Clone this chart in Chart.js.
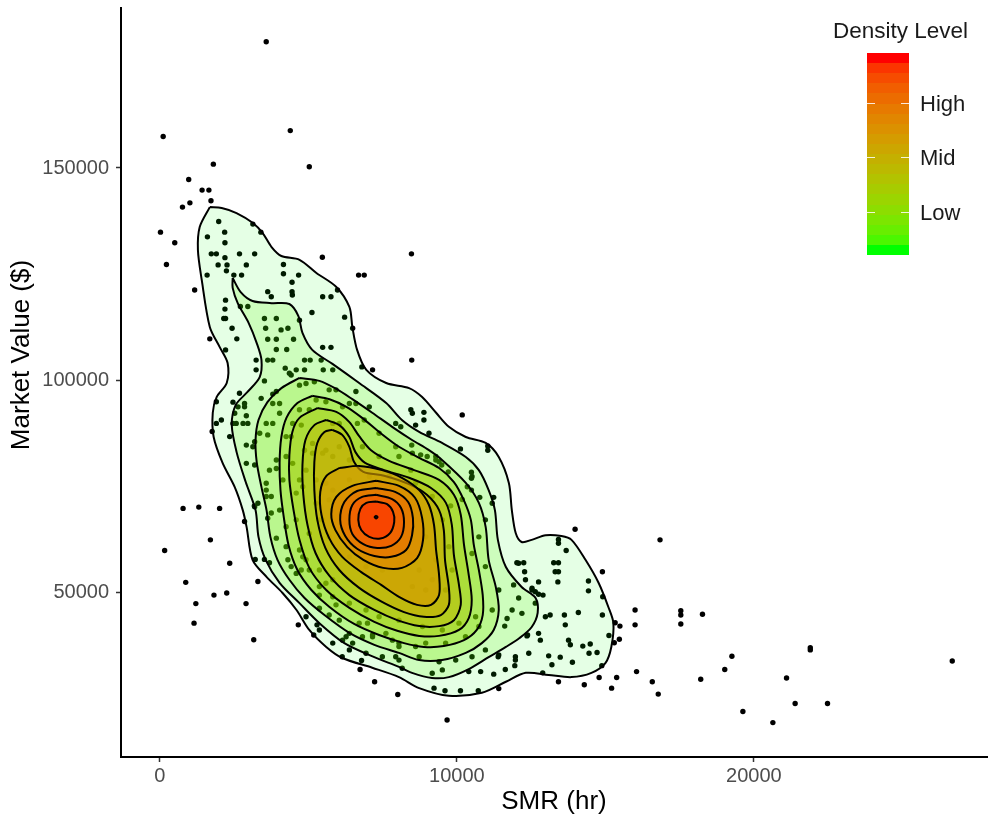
<!DOCTYPE html>
<html lang="en">
<head>
    <meta charset="UTF-8">
    <title>Market Value vs SMR</title>
    <script src="https://cdn.jsdelivr.net/npm/chart.js@4.4.1/dist/chart.umd.min.js"></script>
    <style>
        html, body { margin: 0; padding: 0; background: #fff; }
    </style>
</head>
<body>
    <canvas id="densityChart" width="991" height="820"></canvas>

    <script>
        // axis ticks and legend breaks
        const xTicks = [0, 10000, 20000];
        const yTicks = [50000, 100000, 150000];
        const legendLabels = ["Low", "Mid", "High"];
        const legendBreaks = [0.214, 0.484, 0.753];

        // machine listings: [SMR hours, market value $]
        const listings = [
            [3580,179700],[110,157400],[4390,158800],[1800,150900],[5030,150300],[970,147300],[1420,144800],[1650,144800],
            [1010,141800],[760,140800],[1720,142300],[20,134900],[500,132400],[3130,136800],[3400,134900],[8470,129800],
            [5470,129000],[220,127300],[1170,121300],[1680,109800],[6690,124800],[6880,124800],[8480,104800],[6800,103200],
            [7160,102500],[780,69900],[1310,70200],[2010,69900],[1700,62500],[160,60000],[2350,57000],[870,52500],
            [1820,49500],[2250,50000],[1210,47500],[2900,47500],[1150,42900],[3160,39000],[3300,52700],[4660,42500],
            [5180,40100],[5290,42500],[6740,32000],[7230,29100],[8010,26100],[6790,34100],[6140,35000],[9670,20100],
            [11410,27500],[13420,29100],[14290,28400],[14790,30100],[15210,27600],[15380,30100],[16050,31500],[16580,29100],
            [16780,26200],[13980,65000],[16840,62500],[14900,55000],[16000,46000],[16000,42500],[15490,42200],[15470,39100],
            [17540,45800],[17540,44800],[17540,42700],[18270,45000],[19260,35100],[19020,32000],[18210,29700],[19630,22100],
            [20640,19500],[21100,30000],[21390,24000],[21900,37100],[21900,36600],[22480,24000],[26680,34000],[10180,91900],
            [11040,84600],[11040,83600],[10120,83900],
            [1980,137400],[2180,134900],[1600,133800],[2190,132400],[1730,129800],[1900,129800],[2190,128900],[2680,129800],
            [3190,129800],[1960,127200],[2260,127200],[2910,127200],[2240,125800],[1590,124800],[2490,124800],[2750,124800],
            [4160,127300],[4160,125100],[4670,124800],[4450,123100],[4450,120900],[4460,120100],[3630,120900],[3750,119700],
            [5980,121300],[5760,119700],[5480,119700],[5120,116000],[4700,114200],[6220,114900],[6490,112300],[5480,107800],
            [5760,107800],[2210,118900],[2190,116800],[2150,114600],[2210,114600],[2430,112300],[2590,109800],[2210,107200],
            [2710,117400],[2960,117400],[3520,114600],[3920,114600],[3560,112300],[4080,111900],[4310,112300],[3630,109700],
            [3920,109700],[4500,109700],[3920,107300],[4270,107300],[3240,104800],[3630,104800],[3800,104800],[4870,104800],
            [5060,104800],[3240,102500],[4220,102900],[4590,102500],[4870,102500],[5430,104800],[5500,102500],[5820,102500],
            [4420,101300],[3520,99900],[3920,97400],[3800,96800],[2680,97000],[1900,95000],[2460,94900],[1900,89900],
            [2070,90700],[1760,88000],[2630,93800],[2850,93800],[2520,92300],[2910,91700],[2570,89900],[2800,89900],
            [2960,89900],[2350,86800],[2910,84800],[3190,85600],[3130,84400],[2910,80500],[3190,80100],[3580,74200],
            [3750,72700],[3300,71100],[4700,98900],[4920,99300],[5700,97800],[6600,97400],[5260,95400],[5590,95000],
            [3800,94600],[4030,92300],[3800,89900],[3580,89900],[3360,87600],[3630,87200],[4700,93100],[5030,93100],
            [4470,89900],[4760,89500],[4250,86800],[4420,86800],[4870,83600],[5140,82900],[5820,89900],[6040,89900],
            [6150,93800],[6380,94600],[6650,89900],[6880,90700],[7380,87600],[7940,89900],[8110,89100],[8450,93100],
            [8500,92300],[8610,89500],[8480,84800],[8050,82100],[5590,83600],[5820,82100],[4250,82100],[4470,80500],
            [3920,79300],[4140,76600],[4700,76600],[4590,73500],[3580,75800],
            [8890,92500],[8890,90700],[8780,82500],[9000,82100],[9290,82100],[9400,80900],[9490,80100],[9710,78500],
            [10490,78400],[10490,77000],[10350,75000],[10490,74200],[10770,72500],[11240,72500],[10180,72000],[9790,70500],
            [8450,78900],
            [3210,57900],[3520,57900],[3690,57100],[2850,66800],[3180,70500],[4310,57800],[4420,56200],[3920,62900],
            [3630,67600],[3750,68800],[4250,65600],[4700,60100],[4920,57800],[4590,54600],[4760,55400],[5370,55400],
            [5590,52300],[5820,53100],[5370,49500],[5930,47200],[5370,46400],[5700,44800],[6040,43600],[6380,40500],
            [6490,38200],[6150,38900],[6820,39700],[7160,40100],[6990,42900],[7610,40500],[7830,38900],[8050,37400],
            [7940,35000],[8160,32300],[8610,37400],
            [13420,62600],[13420,61700],[13680,60000],[12020,57100],[12250,57100],[12280,55000],[13260,57100],[13420,57100],
            [13310,55000],[13420,55000],[13400,52600],[12750,52600],[12530,51100],[12640,50300],[12750,49700],[12900,49500],
            [14430,52800],[14430,50500],[14910,49100],[13140,44800],[13620,44800],[14090,45400],[14900,44800],[13650,42500],
            [12380,40100],[12810,38900],[13760,38900],[13820,37800],[14240,37500],[14490,38000],[14450,35800],[14720,36000],
            [15120,40000],[15330,43000],[15300,38300],[13090,35200],[13480,34900],[13200,33100],[13890,33700],[14880,32900],
            [12890,31200],[11970,35000],[11950,32900],[11630,32000],[11240,30900],[10800,31500],[10400,31500],[9510,31900],
            [9170,31100],[10120,27000],[9600,27000],[9230,27600],[10720,27000],[11390,35000],[11860,46000],[11690,44000],
            [11610,42200],[12190,45200],[12360,39900],[11910,51900],[12080,48800],
            [10510,77400],[11190,71100],[10960,67200],[10740,63200],[10510,59300],[10960,56200],[11410,50700],[11190,46000],
            [10630,44400],[10070,42900],[9510,41300],[8840,42100],[8050,43600],[7380,44400],[6940,46000],[6380,47600],
            [5820,49100],[5370,51500],[5030,55400],[4810,58500],[6710,42900],[6270,39700],[7160,39700],[8050,38200],
            [8950,38200],[9620,38200],[10290,39700],[10740,42100],[12080,57000],[12310,53100],[12530,50700],[12640,47600],
            [12980,44400],[12750,40500],[12420,35800],[11970,34200],[11410,35400],[10960,36600],[10510,35000],[9960,34200],
            [9400,33800],[8730,35000],[8050,34200],[7490,35000],[6940,35800],[6380,36600],[5820,38200],[5370,41300],
            [4920,44400],
            [5820,74200],[6150,63200],[6710,59300],[7830,60100],[8390,59300],[8730,55400],[9170,53100],[9290,57800],
            [8950,63200],[8610,67200],[8280,71100],[7940,74200],[8050,57000],[7490,55400],[6940,56200],[6380,58500],
            [5700,63200],[5370,67200],[5260,71100],[5590,75800],[6380,76600],[7050,77400],[7720,77400],[8610,75800],
            [9170,72700],[9510,67200],[9730,60900],[9840,55400],[9620,50700],[8950,50700],[8500,51500],
            [4360,101700],[5200,99700],[5930,97800],[6600,94600],[7050,93800],[9060,87600],[9290,81300],[2850,94600],
            [2460,89900],[3410,95800],[4030,94600],[3690,78900],[3920,81300],[3580,72700],[3190,70300],[4030,69500],
            [4810,75000],[5140,85200],[5480,82900],[6040,84400],[6380,81300],[6820,84400],[7380,82100],[7940,84400],
            [8500,82900],[4920,78900],[5260,76600],[5700,71900],[5480,67200],[5030,64000],[4590,67200],[4250,60900]
        ];

        // density contours, outermost level first: [SMR hours, market value $]
        const contour1 = [[1680,140800],[2080,140600],[2580,139400],[3120,137100],[3460,134700],[3760,131400],[4090,129300],[4700,128400],[5270,125300],[5940,122000],[6380,117300],[6480,112600],[6640,107200],[6950,102500],[7620,99400],[8390,98200],[8830,96100],[9300,92400],[9730,89100],[10300,86700],[10970,85300],[11410,82000],[11750,75900],[11850,69500],[11980,64100],[12180,62000],[12520,62500],[12990,63600],[13520,63400],[13860,62500],[14330,57800],[14770,52400],[15100,46700],[15270,42900],[15200,37300],[15000,33500],[14530,31200],[13860,30200],[13090,30700],[12320,31200],[11650,29100],[10840,26500],[9730,25800],[8730,27600],[8050,30200],[7150,32400],[6140,34700],[5600,37300],[5030,41300],[4600,46000],[4130,50000],[3590,53800],[3120,57800],[2920,65500],[2790,69500],[2520,74900],[2110,80600],[1810,86700],[1780,92400],[1910,96100],[2250,99400],[2280,104100],[2010,107900],[1680,112600],[1410,123600],[1280,130700],[1340,136100],[1680,140800]];
        const contour2 = [[2450,124100],[2720,120800],[3120,118700],[3760,118200],[4360,118000],[4660,115200],[4800,111200],[5130,107200],[5810,103900],[6710,99400],[7620,94700],[8150,90700],[8730,87900],[9500,85300],[10300,82000],[10740,78900],[11070,74200],[11280,69500],[11380,62500],[11650,56100],[12180,51400],[12650,48800],[12720,45300],[12520,42000],[12110,39400],[11650,37300],[11070,34900],[10400,32100],[9730,30200],[9160,30000],[8490,31200],[8050,32600],[7220,34900],[6210,38200],[5370,42900],[4700,47600],[4030,52400],[3560,57800],[3320,63200],[3220,69500],[2890,76100],[2580,83200],[2420,89500],[2550,94200],[2950,97300],[3360,100800],[3420,104800],[3260,108800],[2990,113500],[2620,118200],[2450,121800],[2450,124100]];
        const contour3 = [[4700,100600],[5370,99900],[5940,98000],[6480,95600],[7150,92400],[7820,89100],[8490,86000],[9060,83600],[9500,81300],[10300,75900],[10740,71200],[10970,65500],[11070,57800],[11310,51400],[11410,46000],[11240,41300],[10840,38200],[10300,35900],[9500,34200],[8730,34200],[8050,35900],[7220,37800],[6380,40600],[5540,44800],[4870,48800],[4360,53100],[3960,57800],[3720,63200],[3590,69500],[3420,74900],[3260,80800],[3220,86000],[3320,90700],[3620,94900],[4090,98200],[4700,100600]];
        const contour4 = [[5130,96400],[5710,95600],[6280,93800],[6810,91200],[7380,87900],[8050,84400],[8730,81800],[9400,79400],[9900,76100],[10230,71900],[10470,67200],[10570,61300],[10740,55400],[10870,49500],[10870,44800],[10670,41300],[10240,38900],[9560,37500],[8890,37300],[8220,38200],[7380,40100],[6540,42700],[5710,46700],[5100,50700],[4630,55400],[4330,61300],[4160,68400],[4060,74200],[4030,80600],[4090,86700],[4260,91200],[4630,94700],[5130,96400]];
        const contour5 = [[5300,93500],[5940,92600],[6380,90200],[6710,86900],[7110,83600],[7720,81100],[8560,78900],[9400,76600],[9900,73100],[10130,68400],[10240,61300],[10400,54200],[10500,48400],[10400,44100],[10070,41300],[9400,39900],[8730,39900],[7990,41100],[7220,43200],[6380,46500],[5600,50700],[5030,55900],[4700,62500],[4500,69500],[4360,76600],[4360,82500],[4460,87900],[4700,91200],[5300,93500]];
        const contour6 = [[5600,90700],[6040,89500],[6380,86700],[6580,83200],[6910,80600],[7550,78900],[8390,77100],[9130,74700],[9630,71200],[9830,66000],[9900,58900],[10070,51900],[10130,47200],[9900,43600],[9400,42200],[8730,42200],[7990,43600],[7220,46000],[6380,49500],[5710,54000],[5240,59400],[4970,66000],[4830,73100],[4800,80100],[4900,86000],[5200,89500],[5600,90700]];
        const contour7 = [[5810,88400],[6140,87200],[6380,84400],[6540,80800],[6850,78500],[7550,77600],[8390,75600],[8990,73100],[9400,69500],[9560,64800],[9600,57800],[9730,51200],[9730,47200],[9460,44800],[8890,44400],[8220,45500],[7480,47900],[6710,51200],[6040,55400],[5570,60600],[5300,67200],[5200,74200],[5200,80800],[5300,85300],[5540,87900],[5810,88400]];
        const contour8 = [[6040,79400],[6710,79900],[7480,78900],[8150,77100],[8730,74200],[9060,70700],[9230,66000],[9300,60100],[9400,54200],[9400,49500],[9130,47200],[8660,47200],[8050,49100],[7450,51900],[6780,54900],[6140,58500],[5700,62900],[5440,68400],[5400,73800],[5600,77500],[6040,79400]];
        const contour9 = [[7280,76400],[8050,75200],[8590,72400],[8830,67600],[8860,62500],[8660,58200],[8150,55900],[7520,55900],[6850,57800],[6310,60800],[5910,64800],[5770,68600],[5940,72600],[6480,75200],[7280,76400]];
        const contour10 = [[7280,74700],[7920,73800],[8360,71400],[8520,67600],[8490,63600],[8290,60100],[7790,58500],[7220,58700],[6640,60400],[6240,63400],[6070,67200],[6210,71400],[6640,74000],[7280,74700]];
        const contour11 = [[7280,73100],[7820,72100],[8120,70000],[8220,66700],[8120,63200],[7790,61100],[7320,60600],[6850,61500],[6480,63900],[6380,67200],[6480,70700],[6810,72600],[7280,73100]];
        const contour12 = [[7280,71500],[7650,70900],[7850,69100],[7890,66700],[7750,64100],[7420,62800],[7050,63200],[6780,64800],[6680,67200],[6750,69800],[6950,71200],[7280,71500]];
        const contour13 = [[7280,68200],[7330,67900],[7280,67500],[7230,67900],[7280,68200]];

        const contours = [contour1, contour2, contour3, contour4, contour5, contour6, contour7,
                          contour8, contour9, contour10, contour11, contour12, contour13];

        // green -> red ramp interpolated in CIELAB
        function toLinear(c) {
            c /= 255;
            return c <= 0.04045 ? c / 12.92 : Math.pow((c + 0.055) / 1.055, 2.4);
        }
        function fromLinear(c) {
            const v = c <= 0.0031308 ? 12.92 * c : 1.055 * Math.pow(c, 1 / 2.4) - 0.055;
            return Math.round(Math.min(1, Math.max(0, v)) * 255);
        }
        function rgbToLab(rgb) {
            const r = toLinear(rgb[0]), g = toLinear(rgb[1]), b = toLinear(rgb[2]);
            const X = (0.4124564 * r + 0.3575761 * g + 0.1804375 * b) / 0.95047;
            const Y = 0.2126729 * r + 0.7151522 * g + 0.0721750 * b;
            const Z = (0.0193339 * r + 0.1191920 * g + 0.9503041 * b) / 1.08883;
            const f = t => t > 0.008856 ? Math.cbrt(t) : 7.787 * t + 16 / 116;
            const fx = f(X), fy = f(Y), fz = f(Z);
            return [116 * fy - 16, 500 * (fx - fy), 200 * (fy - fz)];
        }
        function labToRgb(lab) {
            const fy = (lab[0] + 16) / 116, fx = fy + lab[1] / 500, fz = fy - lab[2] / 200;
            const inv = t => t * t * t > 0.008856 ? t * t * t : (t - 16 / 116) / 7.787;
            const X = inv(fx) * 0.95047, Y = inv(fy), Z = inv(fz) * 1.08883;
            return [
                fromLinear( 3.2404542 * X - 1.5371385 * Y - 0.4985314 * Z),
                fromLinear(-0.9692660 * X + 1.8760108 * Y + 0.0415560 * Z),
                fromLinear( 0.0556434 * X - 0.2040259 * Y + 1.0572252 * Z)
            ];
        }
        const lowLab = rgbToLab([0, 255, 0]);
        const highLab = rgbToLab([255, 0, 0]);
        function rampColor(t, alpha) {
            const lab = lowLab.map((v, i) => v + (highLab[i] - v) * t);
            const c = labToRgb(lab);
            return "rgba(" + c[0] + "," + c[1] + "," + c[2] + "," + alpha + ")";
        }

        const levelCount = contours.length;
        const contourSets = contours.map((poly, k) => {
            const t = k / (levelCount - 1);
            return {
                type: "line",
                label: "level " + (k + 1),
                data: poly.map(p => ({ x: p[0], y: p[1] })),
                fill: "shape",
                backgroundColor: rampColor(t, 0.1 + 0.9 * t),
                borderColor: "#000",
                borderWidth: 2,
                pointRadius: 0,
                tension: 0.3,
                order: 50 - k
            };
        });

        const fontFamily = '"Liberation Sans", Arial, Helvetica, sans-serif';
        Chart.defaults.font.family = fontFamily;

        // colour bar legend in the top right corner, plus the rotated y title
        const densityLegend = {
            id: "densityLegend",
            afterDraw(chart) {
                const ctx = chart.ctx;
                const left = 867, top = 53, w = 42, h = 202, bins = 20;
                ctx.save();
                for (let i = 0; i < bins; i++) {
                    const y0 = Math.round(top + h - (i + 1) * h / bins);
                    const y1 = Math.round(top + h - i * h / bins);
                    ctx.fillStyle = rampColor(i / (bins - 1), 1);
                    ctx.fillRect(left, y0, w, y1 - y0);
                }
                ctx.strokeStyle = "rgba(255,255,255,0.85)";
                ctx.lineWidth = 1;
                ctx.fillStyle = "#1a1a1a";
                ctx.font = "22px " + fontFamily;
                ctx.textBaseline = "middle";
                legendBreaks.forEach((b, i) => {
                    const y = Math.round(top + h - b * h) + 0.5;
                    ctx.beginPath();
                    ctx.moveTo(left, y); ctx.lineTo(left + 8, y);
                    ctx.moveTo(left + w - 8, y); ctx.lineTo(left + w, y);
                    ctx.stroke();
                    ctx.fillText(legendLabels[i], 920, y + 1);
                });
                ctx.font = "22.5px " + fontFamily;
                ctx.textBaseline = "alphabetic";
                ctx.fillText("Density Level", 833, 38);

                ctx.translate(22, 355);
                ctx.rotate(-Math.PI / 2);
                ctx.textAlign = "center";
                ctx.textBaseline = "middle";
                ctx.fillStyle = "#000";
                ctx.font = "26px " + fontFamily;
                ctx.fillText("Market Value ($)", 0, 0);
                ctx.restore();
            }
        };

        const ctx = document.getElementById("densityChart").getContext("2d");
        new Chart(ctx, {
            type: "scatter",
            data: {
                datasets: [
                    {
                        label: "listings",
                        data: listings.map(p => ({ x: p[0], y: p[1] })),
                        backgroundColor: "#000",
                        borderWidth: 0,
                        pointRadius: 2.7,
                        order: 100
                    }
                ].concat(contourSets)
            },
            options: {
                responsive: false,
                animation: false,
                layout: { padding: { top: 8, right: 0, left: 0, bottom: 0 } },
                plugins: {
                    legend: { display: false },
                    tooltip: { enabled: false }
                },
                scales: {
                    x: {
                        type: "linear",
                        min: -1310,
                        max: 27850,
                        afterBuildTicks: s => { s.ticks = xTicks.map(v => ({ value: v })); },
                        afterFit: s => { s.height = 63; s.paddingLeft = 0; s.paddingRight = 0; },
                        grid: { display: true, drawOnChartArea: false, drawTicks: true, tickLength: 5, tickWidth: 1.5, color: "#333" },
                        border: { display: true, color: "#000", width: 2 },
                        ticks: { color: "#4d4d4d", font: { size: 20 }, padding: 2, maxRotation: 0, callback: v => String(v) },
                        title: { display: true, text: "SMR (hr)", color: "#000", font: { size: 26 }, padding: { top: 0, bottom: 3 } }
                    },
                    y: {
                        type: "linear",
                        min: 11400,
                        max: 187650,
                        afterBuildTicks: s => { s.ticks = yTicks.map(v => ({ value: v })); },
                        afterFit: s => { s.width = 121; s.paddingTop = 0; s.paddingBottom = 0; },
                        grid: { display: true, drawOnChartArea: false, drawTicks: true, tickLength: 5, tickWidth: 1.5, color: "#333" },
                        border: { display: true, color: "#000", width: 2 },
                        ticks: { color: "#4d4d4d", font: { size: 20 }, padding: 7, callback: v => String(v) }
                    }
                }
            },
            plugins: [densityLegend]
        });
    </script>
</body>
</html>
